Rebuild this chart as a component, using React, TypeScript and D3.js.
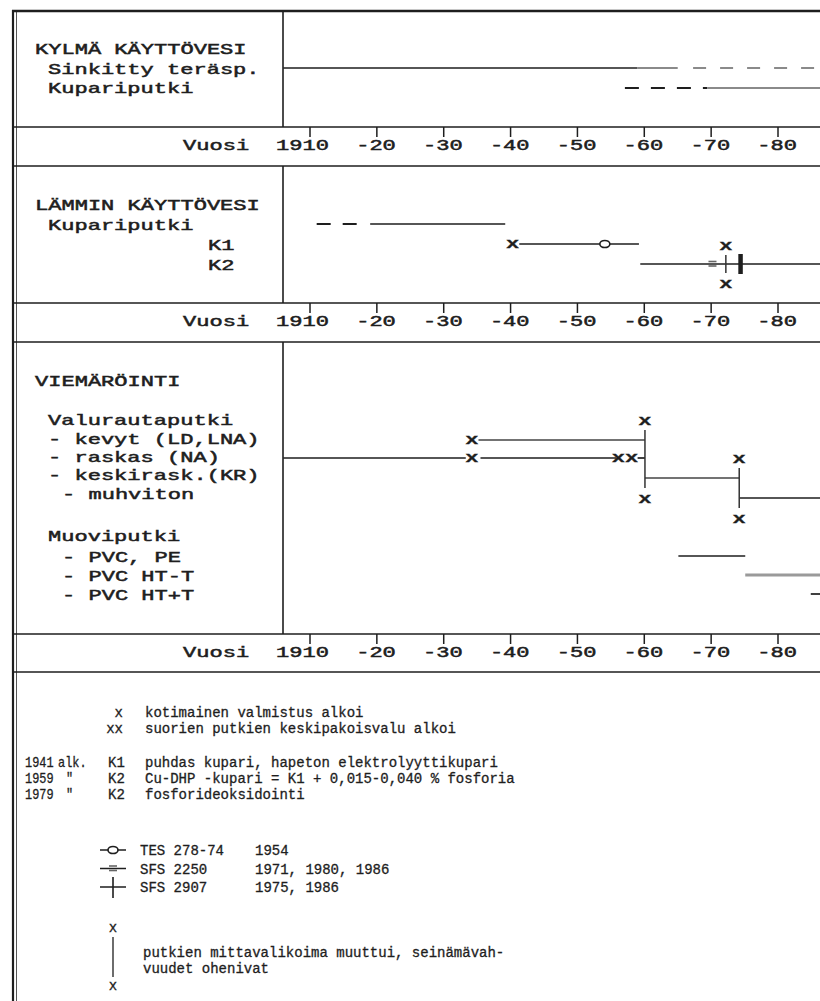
import React from "react";
import * as d3 from "d3";

// ---------- data ----------
const decadeTicks = [1910, 1920, 1930, 1940, 1950, 1960, 1970, 1980];
const tickLabels = ["1910", "-20", "-30", "-40", "-50", "-60", "-70", "-80"];
const axisTitle = "Vuosi";

const coldLabels = ["KYLMÄ KÄYTTÖVESI", "Sinkitty teräsp.", "Kupariputki"];
const hotLabels = ["LÄMMIN KÄYTTÖVESI", "Kupariputki", "K1", "K2"];
const sewerLabels = [
  "VIEMÄRÖINTI",
  "Valurautaputki",
  "- kevyt (LD,LNA)",
  "- raskas (NA)",
  "- keskirask.(KR)",
  "- muhviton",
  "Muoviputki",
  "- PVC, PE",
  "- PVC HT-T",
  "- PVC HT+T",
];

type Seg = { row: string; from: number; to: number; style: string };
const coldSegments: Seg[] = [
  { row: "sinkitty", from: 1906, to: 1959, style: "solid" },
  { row: "sinkitty", from: 1959, to: 1965, style: "light" },
  { row: "sinkitty", from: 1967.3, to: 1992, style: "dashLight" },
  { row: "kupariCold", from: 1957.1, to: 1969.4, style: "dash" },
  { row: "kupariCold", from: 1969.4, to: 1992, style: "light" },
];
const hotSegments: Seg[] = [
  { row: "kupariHot", from: 1911, to: 1917, style: "dash" },
  { row: "kupariHot", from: 1919, to: 1939.2, style: "solid" },
  { row: "k1", from: 1941.3, to: 1959.2, style: "solid" },
  { row: "k2", from: 1959.4, to: 1992, style: "solid" },
];
const sewerSegments: Seg[] = [
  { row: "kevyt", from: 1935.2, to: 1960.1, style: "thin" },
  { row: "raskas", from: 1906, to: 1933.3, style: "solid" },
  { row: "raskas", from: 1935.5, to: 1955.8, style: "solid" },
  { row: "raskas", from: 1959, to: 1960.1, style: "solid" },
  { row: "keskirask", from: 1960.1, to: 1974.2, style: "thin" },
  { row: "muhviton", from: 1974.2, to: 1992, style: "solid" },
  { row: "pvcpe", from: 1965.1, to: 1975.1, style: "solid" },
  { row: "htt", from: 1975.1, to: 1992, style: "thickLight" },
  { row: "htpt", from: 1984.9, to: 1992, style: "solid" },
];

const markers = [
  { row: "k1", year: 1940.3, type: "x" },
  { row: "k1", year: 1954.1, type: "o" },
  { row: "k2", year: 1970.2, type: "eq" },
  { row: "k2", year: 1974.4, type: "bar" },
  { row: "kevyt", year: 1934.2, type: "x" },
  { row: "raskas", year: 1934.2, type: "x" },
  { row: "raskas", year: 1957.1, type: "xx" },
];

const connectors = [
  { year: 1972.2, top: "k2", bottom: "k2" },
  { year: 1960.1, top: "kevyt", bottom: "keskirask" },
  { year: 1974.2, top: "keskirask", bottom: "muhviton" },
];

const legendMarks = [
  { sym: "x", text: "kotimainen valmistus alkoi" },
  { sym: "xx", text: "suorien putkien keskipakoisvalu alkoi" },
];
const legendCopper = [
  { year: "1941", note: "alk.", grade: "K1", text: "puhdas kupari, hapeton elektrolyyttikupari" },
  { year: "1959", note: "\"", grade: "K2", text: "Cu-DHP -kupari = K1 + 0,015-0,040 % fosforia" },
  { year: "1979", note: "\"", grade: "K2", text: "fosforideoksidointi" },
];
const legendStandards = [
  { sym: "o", name: "TES 278-74", years: "1954" },
  { sym: "eq", name: "SFS 2250", years: "1971, 1980, 1986" },
  { sym: "bar", name: "SFS 2907", years: "1975, 1986" },
];
const legendChange = ["putkien mittavalikoima muuttui, seinämävah-", "vuudet ohenivat"];

// ---------- layout ----------
const W = 820;
const H = 1001;
const INK = "#1e1e1e";
const FONT = "'Liberation Mono', 'DejaVu Sans Mono', monospace";
const SX = 1.47;

const rowY: Record<string, number> = {
  sinkitty: 68,
  kupariCold: 88,
  kupariHot: 224,
  k1: 244,
  k2: 264,
  kevyt: 440,
  raskas: 458,
  keskirask: 478,
  muhviton: 498,
  pvcpe: 556,
  htt: 575,
  htpt: 594,
};

const sections = [
  { top: 11, axis: 127, bottom: 166 },
  { top: 166, axis: 303, bottom: 342 },
  { top: 342, axis: 634, bottom: 672 },
];

const x = d3.scaleLinear().domain([1910, 1980]).range([310, 778]);

function T({ x, y, s, size = 15, sx = SX, anchor = "start", weight = "normal", fill = INK, sw = 0.5 }: any) {
  return (
    <text
      transform={`translate(${x},${y}) scale(${sx},1)`}
      fontSize={size}
      fontFamily={FONT}
      textAnchor={anchor}
      fontWeight={weight}
      fill={fill}
      stroke={fill}
      strokeWidth={sw}
    >
      {s}
    </text>
  );
}

function segStyle(style: string) {
  switch (style) {
    case "light":
      return { stroke: "#8a8a8a", strokeWidth: 2 };
    case "dashLight":
      return { stroke: "#8a8a8a", strokeWidth: 2, strokeDasharray: "13,14" };
    case "dash":
      return { stroke: INK, strokeWidth: 1.8, strokeDasharray: "14,12" };
    case "thin":
      return { stroke: "#444", strokeWidth: 1.3 };
    case "thickLight":
      return { stroke: "#9a9a9a", strokeWidth: 3 };
    default:
      return { stroke: INK, strokeWidth: 1.7 };
  }
}

function Segments({ data }: { data: Seg[] }) {
  return (
    <g>
      {data.map((d, i) => (
        <line
          key={i}
          x1={x(d.from)}
          x2={Math.min(x(d.to), W)}
          y1={rowY[d.row]}
          y2={rowY[d.row]}
          {...segStyle(d.style)}
        />
      ))}
    </g>
  );
}

function XMark({ cx, cy, s = "x", size = 15, sx = SX }: any) {
  return <T x={cx} y={cy + 4} s={s} size={size} sx={sx} anchor="middle" weight="bold" sw={0.3} />;
}

function Symbol({ type, cx, cy, legend = false }: any) {
  if (type === "x" || type === "xx") return <XMark cx={cx} cy={cy} s={type} />;
  if (type === "o")
    return <ellipse cx={cx} cy={cy} rx={5} ry={3.5} fill="white" stroke={INK} strokeWidth={1.6} />;
  if (type === "eq")
    return (
      <g stroke="#666" strokeWidth={1.6}>
        <line x1={cx - 4} x2={cx + 4} y1={cy - 2.5} y2={cy - 2.5} />
        <line x1={cx - 4} x2={cx + 4} y1={cy + 2} y2={cy + 2} />
      </g>
    );
  if (type === "bar")
    return legend ? (
      <line x1={cx} x2={cx} y1={cy - 10} y2={cy + 11} stroke={INK} strokeWidth={1.6} />
    ) : (
      <line x1={cx} x2={cx} y1={cy - 10} y2={cy + 10} stroke={INK} strokeWidth={4.5} />
    );
  return null;
}

export default function App() {
  const axisRows = sections.map((s) => s.axis);
  return (
    <svg
      width={W}
      height={H}
      viewBox={`0 0 ${W} ${H}`}
      style={{ position: "absolute", left: 0, top: 0, background: "white" }}
    >
      <rect width={W} height={H} fill="white" />
      {/* frame */}
      <line x1={13} x2={13} y1={10} y2={H} stroke={INK} strokeWidth={2.2} />
      <line x1={16.5} x2={16.5} y1={11} y2={H} stroke="#555" strokeWidth={1} />
      <line x1={12} x2={W} y1={11} y2={11} stroke={INK} strokeWidth={2.5} />
      {sections.map((s, i) => (
        <g key={i}>
          {i > 0 && <line x1={14} x2={W} y1={s.top} y2={s.top} stroke={INK} strokeWidth={1.6} />}
          <line x1={14} x2={W} y1={s.axis} y2={s.axis} stroke={INK} strokeWidth={1.6} />
          <line x1={283} x2={283} y1={s.top} y2={s.axis} stroke={INK} strokeWidth={1.6} />
        </g>
      ))}
      <line x1={14} x2={W} y1={sections[2].bottom} y2={sections[2].bottom} stroke={INK} strokeWidth={1.6} />

      {/* axes */}
      {axisRows.map((ay, i) => (
        <g key={i}>
          <T x={183} y={ay + 23} s={axisTitle} />
          {decadeTicks.map((t, j) => (
            <g key={t}>
              <line x1={x(t)} x2={x(t)} y1={ay} y2={ay + 10} stroke={INK} strokeWidth={1.5} />
              <T x={x(t) + 19} y={ay + 23} s={tickLabels[j]} anchor="end" />
            </g>
          ))}
        </g>
      ))}

      {/* labels */}
      <T x={35} y={54} s={coldLabels[0]} />
      <T x={48} y={74} s={coldLabels[1]} />
      <T x={48} y={93} s={coldLabels[2]} />

      <T x={35} y={210} s={hotLabels[0]} />
      <T x={48} y={230} s={hotLabels[1]} />
      <T x={208} y={250} s={hotLabels[2]} />
      <T x={208} y={270} s={hotLabels[3]} />

      <T x={35} y={386} s={sewerLabels[0]} />
      <T x={48} y={425} s={sewerLabels[1]} />
      <T x={48} y={444} s={sewerLabels[2]} />
      <T x={48} y={462} s={sewerLabels[3]} />
      <T x={48} y={480} s={sewerLabels[4]} />
      <T x={62} y={499} s={sewerLabels[5]} />
      <T x={48} y={541} s={sewerLabels[6]} />
      <T x={62} y={562} s={sewerLabels[7]} />
      <T x={62} y={581} s={sewerLabels[8]} />
      <T x={62} y={600} s={sewerLabels[9]} />

      {/* series */}
      <Segments data={coldSegments} />
      <Segments data={hotSegments} />
      <Segments data={sewerSegments} />

      {connectors.map((c, i) => {
        const y1 = rowY[c.top] - (c.top === c.bottom ? 9 : 10);
        const y2 = rowY[c.bottom] + (c.top === c.bottom ? 9 : 10);
        return (
          <g key={i}>
            <line x1={x(c.year)} x2={x(c.year)} y1={y1} y2={y2} stroke="#333" strokeWidth={1.5} />
            <XMark cx={x(c.year)} cy={y1 - 9} />
            <XMark cx={x(c.year)} cy={y2 + 11} />
          </g>
        );
      })}

      {markers.map((m, i) => (
        <Symbol key={i} type={m.type} cx={x(m.year)} cy={rowY[m.row]} />
      ))}

      {/* legend */}
      {legendMarks.map((d, i) => (
        <g key={i}>
          <T x={123} y={717 + i * 16} s={d.sym} size={14} sx={1} anchor="end" sw={0.3} />
          <T x={145} y={717 + i * 16} s={d.text} size={14} sx={1} sw={0.3} />
        </g>
      ))}
      {legendCopper.map((d, i) => (
        <g key={i}>
          <T x={25} y={767 + i * 16} s={d.year} size={14} sx={0.85} sw={0.3} />
          <T x={i === 0 ? 58 : 66} y={767 + i * 16} s={d.note} size={14} sx={0.85} sw={0.3} />
          <T x={108} y={767 + i * 16} s={d.grade} size={14} sx={1} sw={0.3} />
          <T x={145} y={767 + i * 16} s={d.text} size={14} sx={1} sw={0.3} />
        </g>
      ))}
      {legendStandards.map((d, i) => {
        const cy = 850 + i * 18.5;
        return (
          <g key={i}>
            <line x1={100} x2={126} y1={cy} y2={cy} stroke={INK} strokeWidth={1.5} />
            <Symbol type={d.sym} cx={113} cy={cy} legend />
            <T x={140} y={cy + 5} s={d.name} size={14} sx={1} sw={0.3} />
            <T x={255} y={cy + 5} s={d.years} size={14} sx={1} sw={0.3} />
          </g>
        );
      })}
      <T x={113} y={932} s="x" size={14} sx={1} anchor="middle" sw={0.3} />
      <line x1={113} x2={113} y1={937} y2={977} stroke={INK} strokeWidth={1.3} />
      <T x={113} y={990} s="x" size={14} sx={1} anchor="middle" sw={0.3} />
      <T x={143} y={957} s={legendChange[0]} size={14} sx={1} sw={0.3} />
      <T x={143} y={973} s={legendChange[1]} size={14} sx={1} sw={0.3} />
    </svg>
  );
}
